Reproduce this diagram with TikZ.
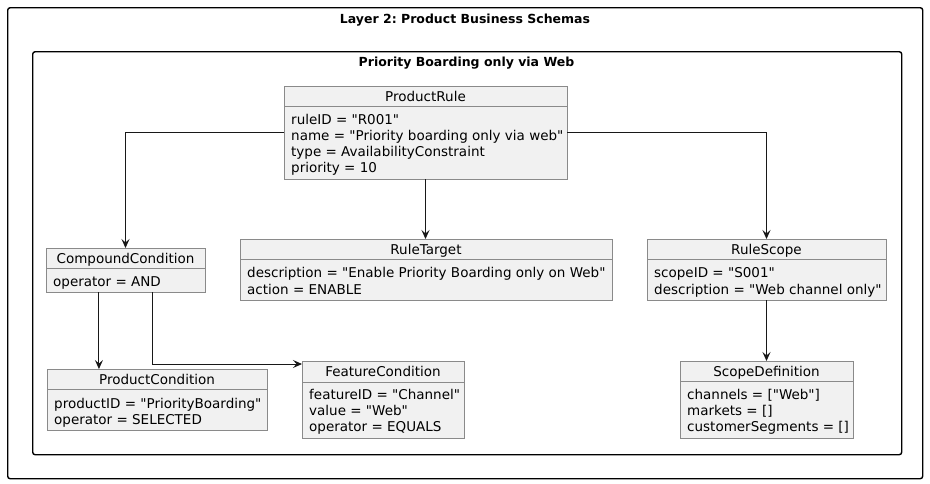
\documentclass[tikz,border=0pt]{standalone}
\usepackage{fontspec}
\newfontfamily\uifont{DejaVu Sans}
\usetikzlibrary{arrows.meta,calc}
\definecolor{boxfill}{HTML}{F1F1F1}
\definecolor{boxline}{HTML}{8A8A8A}
\definecolor{arrline}{HTML}{181818}
\tikzset{
  frame/.style={draw=black,line width=1.4pt,rounded corners=2.5pt},
  frametitle/.style={anchor=base,inner sep=0,font=\uifont\fontsize{12.5}{16}\selectfont\bfseries\frenchspacing},
  classbox/.style={draw=boxline,fill=boxfill,line width=0.9pt,anchor=north west,inner sep=0,outer sep=0},
  sepline/.style={draw=boxline,line width=0.9pt},
  ctitle/.style={anchor=base,inner sep=0,font=\uifont\fontsize{13.5}{16}\selectfont},
  attr/.style={anchor=base west,inner sep=0,font=\uifont\fontsize{13.5}{16}\selectfont},
  arr/.style={draw=arrline,line width=0.9pt,-{Stealth[length=9pt,width=8pt,inset=3.5pt]}}
}
% \cbox{name}{x1}{y1}{x2}{y2}{ysep}{title}{titlebaseline}
\newcommand{\cbox}[8]{%
  \node[classbox,minimum width=#4pt-#2pt,minimum height=#5pt-#3pt] (#1) at (#2,#3) {};
  \draw[sepline] (#2,#6) -- (#4,#6);
  \node[ctitle] (#1-t) at ({(#2+#4)/2},#8) {#7};
}
\begin{document}
\begin{tikzpicture}[x=1pt,y=-1pt]
\useasboundingbox (0,0) rectangle (930,483);
\fill[white] (0,0) rectangle (930,483);

\node[frame,anchor=north west,minimum width=915pt,minimum height=471pt,inner sep=0] (outer) at (7,7) {};
\node[frametitle] (outer-t) at (465,23) {Layer 2: Product Business Schemas};
\node[frame,anchor=north west,minimum width=869pt,minimum height=403pt,inner sep=0] (inner) at (32,51) {};
\node[frametitle] (inner-t) at (466.5,66) {Priority Boarding only via Web};

% ProductRule
\cbox{pr}{284}{86}{567}{179}{106}{ProductRule}{101}
\node[attr] (pr-a1) at (291,124) {ruleID = "R001"};
\node[attr] (pr-a2) at (291,140) {name = "Priority boarding only via web"};
\node[attr] (pr-a3) at (291,156) {type = AvailabilityConstraint};
\node[attr] (pr-a4) at (291,172) {priority = 10};

% CompoundCondition
\cbox{cc}{46}{248}{205}{292}{268}{CompoundCondition}{263}
\node[attr] (cc-a1) at (53,286) {operator = AND};

% RuleTarget
\cbox{rt}{240}{239}{612}{300}{259}{RuleTarget}{254}
\node[attr] (rt-a1) at (247,277) {description = "Enable Priority Boarding only on Web"};
\node[attr] (rt-a2) at (247,294) {action = ENABLE};

% RuleScope
\cbox{rs}{647}{239}{886}{300}{259}{RuleScope}{254}
\node[attr] (rs-a1) at (654,277) {scopeID = "S001"};
\node[attr] (rs-a2) at (654,294) {description = "Web channel only"};

% ProductCondition
\cbox{pc}{47}{369}{267}{430}{389}{ProductCondition}{384}
\node[attr] (pc-a1) at (54,408) {productID = "PriorityBoarding"};
\node[attr] (pc-a2) at (54,424) {operator = SELECTED};

% FeatureCondition
\cbox{fc}{302}{361}{464}{438}{382}{FeatureCondition}{376}
\node[attr] (fc-a1) at (309,399) {featureID = "Channel"};
\node[attr] (fc-a2) at (309,415) {value = "Web"};
\node[attr] (fc-a3) at (309,431) {operator = EQUALS};

% ScopeDefinition
\cbox{sd}{680}{361}{853}{438}{381}{ScopeDefinition}{376}
\node[attr] (sd-a1) at (687,399) {channels = ["Web"]};
\node[attr] (sd-a2) at (687,415) {markets = []};
\node[attr] (sd-a3) at (687,431) {customerSegments = []};

% connectors
\draw[arr] (pr.west) -| (cc.north);
\draw[arr] (pr.south) -- (pr.south |- rt.north);
\draw[arr] (pr.east) -| (rs.north);
\draw[arr] (rs.south) -- (sd.north);
\coordinate (cc-l) at ($(cc.south west)!0.333!(cc.south east)$);
\coordinate (cc-r) at ($(cc.south west)!0.667!(cc.south east)$);
\coordinate (fc-in) at ($(fc.north west)+(0,3)$);
\draw[arr] (cc-l) -- (cc-l |- pc.north);
\draw[arr] (cc-r) |- (fc-in);
\end{tikzpicture}
\end{document}
